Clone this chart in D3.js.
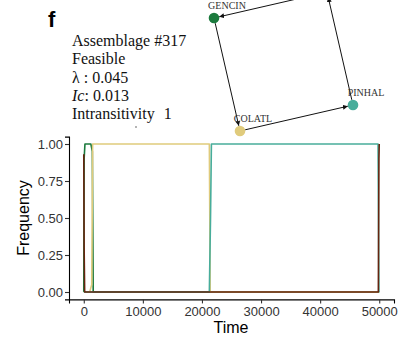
<!DOCTYPE html>
<html>
<head>
<meta charset="utf-8">
<script src="https://cdn.jsdelivr.net/npm/d3@7"></script>
<style>
  body { margin: 0; background: #fff; }
  svg { display: block; }
</style>
</head>
<body>
<div id="chart"></div>
<script>
// ---- data ----
var speciesNames = ["GENCIN", "COLATL", "PINHAL", "SP4"]
var speciesColors = ["#1b7a3d", "#e0cb7c", "#48ad9b", "#66240f"]

// breakpoints of each frequency trace (time, frequency)
var genTime = [0, 60, 200, 1200, 1450, 1600, 50000]
var genFreq = [0, 0.9, 1, 1, 0.95, 0, 0]
var colTime = [0, 1000, 1350, 1500, 21250, 21400, 50000]
var colFreq = [0, 0, 0.05, 1, 1, 0, 0]
var pinTime = [0, 21250, 21450, 21600, 49800, 49950, 50000]
var pinFreq = [0, 0, 0.5, 1, 1, 0, 0]
var sp4Time = [0, 60, 150, 49850, 49950, 50000]
var sp4Freq = [0.93, 0.3, 0, 0, 0.9, 1]

var xTicks = [0, 10000, 20000, 30000, 40000, 50000]
var yTicks = [0, 0.25, 0.5, 0.75, 1]

// interaction network, layout units
var nodeX = [0, 0.187, 1, 0.813]
var nodeY = [0.187, 1, 0.813, 0]
var edgeFrom = [3, 0, 1, 2]
var edgeTo = [0, 1, 2, 3]

var infoLines = ["Assemblage #317", "Feasible", "λ : 0.045"]
var icValue = "0.013"
var intransValue = "1"

var W = 402, H = 344
var svg = d3.select("#chart").append("svg")
    .attr("width", W).attr("height", H)

// ---- time series panel ----
var X_AXIS = d3.scaleLinear().domain([-2500, 52500]).range([69, 394])
var Y_AXIS = d3.scaleLinear().domain([-0.05, 1.05]).range([299.4, 136.6])

var series = [
    {t: genTime, f: genFreq, c: speciesColors[0]},
    {t: colTime, f: colFreq, c: speciesColors[1]},
    {t: pinTime, f: pinFreq, c: speciesColors[2]},
    {t: sp4Time, f: sp4Freq, c: speciesColors[3]}
]
var line = d3.line()
    .x(function(d){ return X_AXIS(d[0]) })
    .y(function(d){ return Y_AXIS(d[1]) })

svg.append("g").selectAll("path")
    .data(series)
    .enter().append("path")
    .attr("fill", "none")
    .attr("stroke", function(d){ return d.c })
    .attr("stroke-width", 1.6)
    .attr("stroke-linejoin", "round")
    .attr("d", function(d){ return line(d.t.map(function(t, i){ return [t, d.f[i]] })) })

var gx = svg.append("g")
    .attr("transform", "translate(0,299.4)")
    .call(d3.axisBottom(X_AXIS).tickValues(xTicks).tickFormat(d3.format("d")).tickSizeOuter(0).tickSize(4).tickPadding(3))
var gy = svg.append("g")
    .attr("transform", "translate(69,0)")
    .call(d3.axisLeft(Y_AXIS).tickValues(yTicks).tickFormat(d3.format(".2f")).tickSizeOuter(0).tickSize(4).tickPadding(2))

;[gx, gy].forEach(function(g){
    g.select(".domain").attr("stroke", "#000").attr("stroke-width", 1.1)
    g.selectAll(".tick line").attr("stroke", "#333").attr("stroke-width", 1.1)
    g.selectAll(".tick text")
        .attr("fill", "#333")
        .style("font-family", "Liberation Sans, Arial, sans-serif")
        .style("font-size", "13px")
})
gy.selectAll(".tick text").attr("dy", "0.36em")

svg.append("text")
    .attr("x", 231).attr("y", 333)
    .attr("text-anchor", "middle")
    .style("font-family", "Liberation Sans, Arial, sans-serif")
    .style("font-size", "16px")
    .text("Time")
svg.append("text")
    .attr("transform", "translate(29,218) rotate(-90)")
    .attr("text-anchor", "middle")
    .style("font-family", "Liberation Sans, Arial, sans-serif")
    .style("font-size", "16px")
    .text("Frequency")

// ---- network inset ----
var NX = d3.scaleLinear().domain([0, 1]).range([214, 353])
var NY = d3.scaleLinear().domain([0, 1]).range([-8, 131])
var R = 5.3

var defs = svg.append("defs")
defs.append("marker")
    .attr("id", "arr")
    .attr("viewBox", "0 -5 10 10")
    .attr("refX", 10).attr("refY", 0)
    .attr("markerWidth", 5).attr("markerHeight", 5)
    .attr("markerUnits", "userSpaceOnUse")
    .attr("orient", "auto")
    .append("path").attr("d", "M0,-5L10,0L0,5Z").attr("fill", "#111")

edgeFrom.forEach(function(a, i){
    var b = edgeTo[i]
    var x1 = NX(nodeX[a]), y1 = NY(nodeY[a])
    var x2 = NX(nodeX[b]), y2 = NY(nodeY[b])
    var len = Math.hypot(x2 - x1, y2 - y1)
    var ux = (x2 - x1) / len, uy = (y2 - y1) / len
    svg.append("line")
        .attr("x1", x1 + ux * R).attr("y1", y1 + uy * R)
        .attr("x2", x2 - ux * R).attr("y2", y2 - uy * R)
        .attr("stroke", "#111").attr("stroke-width", 1)
        .attr("marker-end", "url(#arr)")
})

speciesNames.forEach(function(name, i){
    if (i < 3) {
        svg.append("text")
            .attr("x", NX(nodeX[i]) + 13).attr("y", NY(nodeY[i]) - 9)
            .attr("text-anchor", "middle")
            .attr("fill", "#333")
            .style("font-family", "Liberation Serif, Times New Roman, serif")
            .style("font-size", "10px")
            .text(name)
    }
    svg.append("circle")
        .attr("cx", NX(nodeX[i])).attr("cy", NY(nodeY[i]))
        .attr("r", R)
        .attr("fill", speciesColors[i])
})

// ---- panel label and info text ----
svg.append("text")
    .attr("x", 48).attr("y", 27)
    .style("font-family", "Liberation Sans, Arial, sans-serif")
    .style("font-weight", "bold")
    .style("font-size", "22px")
    .text("f")

var info = svg.append("g")
    .style("font-family", "Liberation Serif, Times New Roman, serif")
    .style("font-size", "16px")
    .attr("fill", "#111")
infoLines.forEach(function(s, i){
    info.append("text").attr("x", 72).attr("y", 45.7 + i * 18.4).text(s)
})
var ic = info.append("text").attr("x", 72).attr("y", 45.7 + 3 * 18.4)
ic.append("tspan").style("font-style", "italic").text("Ic")
ic.append("tspan").text(": " + icValue)
var intr = info.append("text").attr("x", 72).attr("y", 45.7 + 4 * 18.4)
intr.append("tspan").text("Intransitivity")
intr.append("tspan").attr("dx", 9).text(intransValue)
svg.append("circle").attr("cx", 136).attr("cy", 127).attr("r", 0.8).attr("fill", "#555")
</script>
</body>
</html>
